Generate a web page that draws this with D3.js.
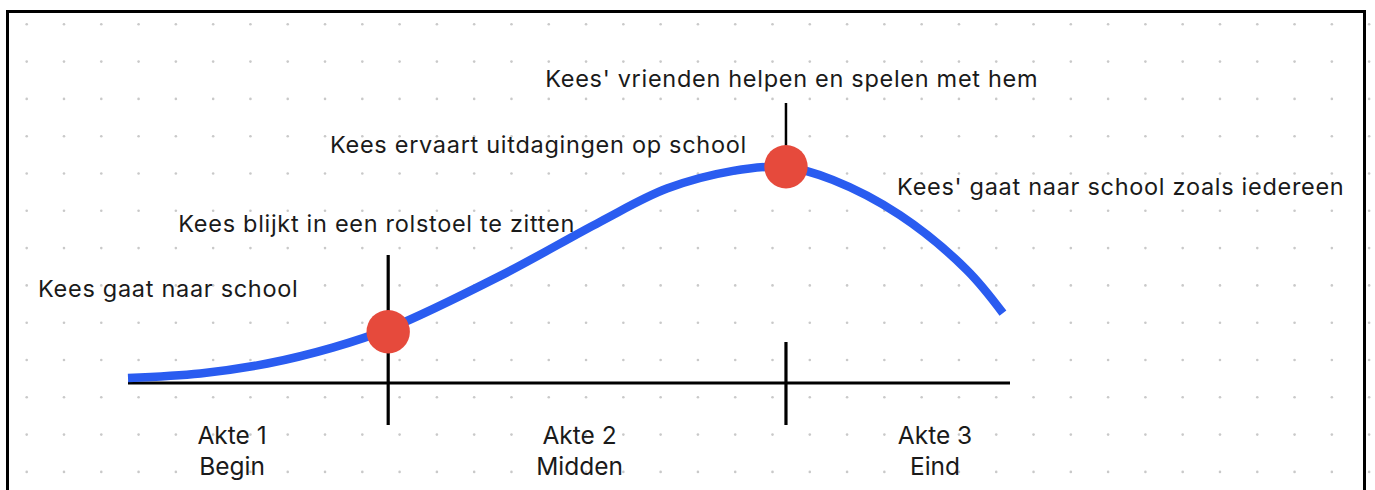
<!DOCTYPE html>
<html>
<head>
<meta charset="utf-8">
<script src="https://cdn.jsdelivr.net/npm/d3@7"></script>
<style>
  html, body { margin: 0; padding: 0; background: #fff; }
  svg { display: block; }
  text { font-family: Inter, "Liberation Sans", sans-serif; fill: #1a1a1a; }
</style>
</head>
<body>
<svg id="chart" width="1375" height="490"></svg>
<script>
// story progress (0-100) and tension (0-100) along the plot line
const storyX  = [0, 8.2, 15.8, 23.2, 29.5, 42.2, 53.5, 61.1, 68.6, 74.6, 79.9, 87.5, 95.1, 99.2];
const tension = [1.7, 3.2, 6.5, 11.8, 18, 35.7, 53.7, 64.8, 70.7, 72, 67.7, 56, 37.7, 23.3];

// act boundaries (turning points) on the story axis
const turningX = [29.5, 74.6];
const turningY = [17.1, 72.1];

// act labels
const actLines1 = ['Akte 1', 'Akte 2', 'Akte 3'];
const actLines2 = ['Begin', 'Midden', 'Eind'];
const actX      = [11.8, 51.2, 91.5];

// story annotations (anchor = left edge, baseline, in chart units)
const notes  = [
    'Kees gaat naar school',
    'Kees blijkt in een rolstoel te zitten',
    'Kees ervaart uitdagingen op school',
    "Kees' vrienden helpen en spelen met hem",
    "Kees' gaat naar school zoals iedereen"
];
const noteX = [-10.2, 5.7, 22.9, 47.3, 87.2];
const noteY = [28.8, 50.4, 76.6, 98.6, 62.7];

const W = 1375, H = 490;
const svg = d3.select('#chart');

const x = d3.scaleLinear().domain([0, 100]).range([128, 1010]);
const y = d3.scaleLinear().domain([0, 100]).range([383, 83]);

// dotted paper background
const gridX = d3.range(26.7, W, 37.29);
const gridY = d3.range(24.3, H, 37.3);
svg.append('g')
    .selectAll('circle')
    .data(d3.cross(gridX, gridY))
    .join('circle')
    .attr('cx', d => d[0])
    .attr('cy', d => d[1])
    .attr('r', 1.3)
    .attr('fill', '#c9c9c9');

// frame
svg.append('path')
    .attr('d', 'M7.5,' + (H + 5) + 'V11.5H1364.5V' + (H + 5))
    .attr('fill', 'none')
    .attr('stroke', '#000')
    .attr('stroke-width', 3);

// horizontal story axis
svg.append('line')
    .attr('x1', x(0)).attr('x2', x(100))
    .attr('y1', y(0)).attr('y2', y(0))
    .attr('stroke', '#000')
    .attr('stroke-width', 3.2);

// act dividers
svg.append('g')
    .selectAll('line')
    .data(turningX)
    .join('line')
    .attr('x1', d => x(d)).attr('x2', d => x(d))
    .attr('y1', (d, i) => i === 0 ? y(0) - 128 : y(0) - 41)
    .attr('y2', y(0) + 42)
    .attr('stroke', '#000')
    .attr('stroke-width', 3.2);

// connector above the climax
svg.append('line')
    .attr('x1', x(turningX[1])).attr('x2', x(turningX[1]))
    .attr('y1', 103).attr('y2', y(turningY[1]))
    .attr('stroke', '#000')
    .attr('stroke-width', 2.5);

// plot line
const line = d3.line()
    .x((d, i) => x(storyX[i]))
    .y((d, i) => y(d))
    .curve(d3.curveCatmullRom.alpha(0.5));

svg.append('path')
    .datum(tension)
    .attr('d', line)
    .attr('fill', 'none')
    .attr('stroke', '#2a5cf0')
    .attr('stroke-width', 8.5);

// turning points
svg.append('g')
    .selectAll('circle')
    .data(turningX)
    .join('circle')
    .attr('cx', d => x(d))
    .attr('cy', (d, i) => y(turningY[i]))
    .attr('r', 21.7)
    .attr('fill', '#e64a3c');

// annotations
svg.append('g')
    .selectAll('text')
    .data(notes)
    .join('text')
    .attr('x', (d, i) => x(noteX[i]))
    .attr('y', (d, i) => y(noteY[i]))
    .attr('font-size', 23.5)
    .attr('letter-spacing', 0.7)
    .text(d => d);

// act labels
const acts = svg.append('g')
    .selectAll('text')
    .data(actLines1)
    .join('text')
    .attr('text-anchor', 'middle')
    .attr('font-size', 24.5)
    .attr('x', (d, i) => x(actX[i]));
acts.append('tspan')
    .attr('x', (d, i) => x(actX[i]))
    .attr('y', 444)
    .text(d => d);
acts.append('tspan')
    .attr('x', (d, i) => x(actX[i]))
    .attr('y', 475)
    .text((d, i) => actLines2[i]);
</script>
</body>
</html>
